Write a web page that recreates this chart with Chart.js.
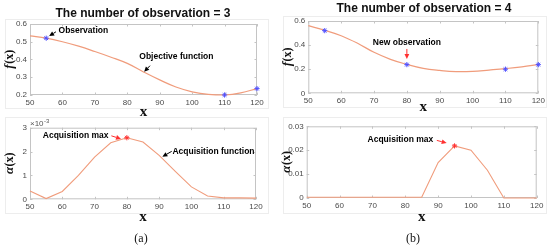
<!DOCTYPE html>
<html>
<head>
<meta charset="utf-8">
<script src="https://cdn.jsdelivr.net/npm/chart.js"></script>
<style>
body { margin: 0; background: #fff; }
#wrap { position: relative; width: 550px; height: 248px; overflow: hidden; font-family: "Liberation Sans", Arial, sans-serif; }
canvas { position: absolute; left: 0; top: 0; }
.ttl { position: absolute; font-weight: bold; font-size: 12px; color: #111; white-space: nowrap; transform: translate(-50%, -50%); }
.cap { position: absolute; font-family: "Liberation Serif", serif; font-size: 12px; color: #111; transform: translate(-50%, -50%); }
.box { position: absolute; border: 1px solid #ededed; }
</style>
</head>
<body>
<div id="wrap">
  <div class="box" style="left:5px;top:19px;width:262px;height:88px"></div>
  <div class="box" style="left:5px;top:117px;width:262px;height:95px"></div>
  <div class="box" style="left:283px;top:16px;width:262px;height:90px"></div>
  <div class="box" style="left:283px;top:117px;width:262px;height:95px"></div>
  <canvas id="fA" width="550" height="248"></canvas>
  <canvas id="aA" width="550" height="248"></canvas>
  <canvas id="fB" width="550" height="248"></canvas>
  <canvas id="aB" width="550" height="248"></canvas>
  <div class="ttl" style="left:143px;top:13px">The number of observation = 3</div>
  <div class="ttl" style="left:424px;top:8px">The number of observation = 4</div>
  <div class="cap" style="left:141px;top:238px">(a)</div>
  <div class="cap" style="left:413px;top:238px">(b)</div>
</div>
<script>
// values
const xValues = [50, 55, 60, 65, 70, 75, 80, 85, 90, 95, 100, 105, 110, 115, 120];
const xTicks = [50, 60, 70, 80, 90, 100, 110, 120];

// (a) three observations
const objectiveA = [0.533, 0.520, 0.500, 0.475, 0.445, 0.413, 0.378, 0.330, 0.285, 0.245, 0.218, 0.203, 0.200, 0.212, 0.236];
const obsXA = [55, 110, 120];
const obsYA = [0.520, 0.200, 0.236];
const acqA = [0.35, 0.03, 0.33, 1.00, 1.77, 2.37, 2.58, 2.40, 1.84, 1.17, 0.52, 0.14, 0.06, 0.06, 0.05]; // x 10^-3
const maxXA = 80, maxYA = 2.58;
const yTicksFA = [0.2, 0.3, 0.4, 0.5, 0.6];
const yTicksAA = [0, 1, 2, 3];

// (b) four observations
const objectiveB = [0.561, 0.523, 0.478, 0.415, 0.340, 0.282, 0.240, 0.207, 0.190, 0.180, 0.182, 0.193, 0.205, 0.220, 0.240];
const obsXB = [55, 80, 110, 120];
const obsYB = [0.520, 0.238, 0.200, 0.238];
const acqB = [0.0003, 0.0003, 0.0003, 0.0003, 0.0003, 0.0003, 0.0003, 0.0003, 0.0148, 0.0218, 0.0200, 0.0116, 0, 0, 0];
const maxXB = 95, maxYB = 0.0218;
const yTicksFB = [0, 0.2, 0.4, 0.6];
const yTicksAB = [0, 0.01, 0.02, 0.03];

const lineColor = '#f09c7c';
const obsColor = '#5050ff';
const maxColor = '#ff3030';
const frameColor = '#c4c4c4';
const tickFont = { family: 'Liberation Sans', size: 8 };
const noteFont = 'bold 8.5px "Liberation Sans"';

const pts = (xs, ys) => xs.map((x, i) => ({ x: x, y: ys[i] }));

// light frame with inward MATLAB-style ticks, drawn under the lines
const framePlugin = {
  id: 'frame',
  beforeDatasetsDraw(chart) {
    const { ctx, chartArea: a, scales } = chart;
    ctx.save();
    ctx.strokeStyle = frameColor;
    ctx.lineWidth = 1;
    ctx.strokeRect(a.left + 0.5, a.top + 0.5, a.right - a.left - 1, a.bottom - a.top - 1);
    ctx.beginPath();
    scales.x.ticks.forEach(t => {
      const px = Math.round(scales.x.getPixelForValue(t.value)) + 0.5;
      ctx.moveTo(px, a.bottom); ctx.lineTo(px, a.bottom - 2.5);
      ctx.moveTo(px, a.top); ctx.lineTo(px, a.top + 2.5);
    });
    scales.y.ticks.forEach(t => {
      const py = Math.round(scales.y.getPixelForValue(t.value)) + 0.5;
      ctx.moveTo(a.left, py); ctx.lineTo(a.left + 2.5, py);
      ctx.moveTo(a.right, py); ctx.lineTo(a.right - 2.5, py);
    });
    ctx.stroke();
    ctx.restore();
  }
};

function arrow(ctx, x0, y0, x1, y1, color) {
  const ang = Math.atan2(y1 - y0, x1 - x0);
  const hl = 5, hw = 2.4;
  ctx.strokeStyle = color;
  ctx.fillStyle = color;
  ctx.lineWidth = 1;
  ctx.beginPath();
  ctx.moveTo(x0, y0);
  ctx.lineTo(x1 - Math.cos(ang) * hl, y1 - Math.sin(ang) * hl);
  ctx.stroke();
  ctx.beginPath();
  ctx.moveTo(x1, y1);
  ctx.lineTo(x1 - Math.cos(ang) * hl - Math.sin(ang) * hw, y1 - Math.sin(ang) * hl + Math.cos(ang) * hw);
  ctx.lineTo(x1 - Math.cos(ang) * hl + Math.sin(ang) * hw, y1 - Math.sin(ang) * hl - Math.cos(ang) * hw);
  ctx.closePath();
  ctx.fill();
}

// text notes + arrows, placed in data units
function notesPlugin(notes, yTitle, titleX, exponent) {
  return {
    id: 'notes',
    afterDraw(chart) {
      const { ctx, chartArea: a, scales: { x, y } } = chart;
      ctx.save();
      notes.forEach(n => {
        ctx.font = noteFont;
        ctx.fillStyle = '#000';
        ctx.textAlign = n.align;
        ctx.textBaseline = 'middle';
        ctx.fillText(n.text, x.getPixelForValue(n.tx), y.getPixelForValue(n.ty));
        arrow(ctx, x.getPixelForValue(n.from[0]), y.getPixelForValue(n.from[1]),
          x.getPixelForValue(n.to[0]), y.getPixelForValue(n.to[1]), n.color);
      });
      // y label, rotated
      ctx.translate(titleX, (a.top + a.bottom) / 2);
      ctx.rotate(-Math.PI / 2);
      ctx.textBaseline = 'middle';
      ctx.fillStyle = '#111';
      const first = yTitle[0], rest = yTitle.slice(1);
      const f1 = 'italic bold 13px "Liberation Serif"', f2 = 'bold 12px "Liberation Serif"';
      ctx.font = f1;
      const w1 = ctx.measureText(first).width;
      ctx.font = f2;
      const w2 = ctx.measureText(rest).width;
      ctx.textAlign = 'left';
      ctx.font = f1;
      ctx.fillText(first, -(w1 + w2) / 2, 0);
      ctx.font = f2;
      ctx.fillText(rest, -(w1 + w2) / 2 + w1 + 0.5, 0);
      ctx.restore();
      if (exponent) {
        ctx.save();
        ctx.fillStyle = '#555';
        ctx.textBaseline = 'alphabetic';
        ctx.textAlign = 'left';
        ctx.font = '8px "Liberation Sans"';
        ctx.fillText('\u00d710', a.left, a.top - 2);
        const w = ctx.measureText('\u00d710').width;
        ctx.font = '6px "Liberation Sans"';
        ctx.fillText(exponent, a.left + w + 0.5, a.top - 5);
        ctx.restore();
      }
    }
  };
}

function panel(id, area, yTicks, yTitle, datasets, notes, exponent) {
  const yW = area.l - area.ox;
  const xH = area.xH;
  const fmt = v => String(+v.toFixed(4));
  new Chart(document.getElementById(id), {
    type: 'line',
    data: { datasets: datasets },
    options: {
      responsive: false,
      animation: false,
      events: [],
      layout: { padding: { left: area.ox, top: area.t, right: 550 - area.r, bottom: 248 - area.b - xH } },
      plugins: { legend: { display: false }, tooltip: { enabled: false } },
      scales: {
        x: {
          type: 'linear', min: 50, max: 120,
          afterBuildTicks: s => { s.ticks = xTicks.map(v => ({ value: v })); },
          afterFit: s => { s.height = xH; },
          grid: { drawOnChartArea: false, drawTicks: false },
          border: { display: false },
          ticks: { padding: 3, font: tickFont, color: '#4a4a4a', maxRotation: 0, autoSkip: false, callback: fmt },
          title: { display: true, text: 'x', color: '#111', padding: 0,
            font: { family: 'Liberation Serif', weight: 'bold', size: 15 } }
        },
        y: {
          type: 'linear', min: yTicks[0], max: yTicks[yTicks.length - 1],
          afterBuildTicks: s => { s.ticks = yTicks.map(v => ({ value: v })); },
          afterFit: s => { s.width = yW; },
          grid: { drawOnChartArea: false, drawTicks: false },
          border: { display: false },
          ticks: { padding: 3, font: tickFont, color: '#4a4a4a', callback: fmt }
        }
      }
    },
    plugins: [framePlugin, notesPlugin(notes, yTitle, area.ox + area.tx, exponent)]
  });
}

const curve = data => ({ data: data, borderColor: lineColor, borderWidth: 1.2, pointRadius: 0, tension: 0.4, fill: false, clip: 3 });
const polyline = data => ({ data: data, borderColor: lineColor, borderWidth: 1.1, pointRadius: 0, tension: 0, fill: false, clip: 3 });
const markers = (data, color) => ({ data: data, showLine: false, pointStyle: 'star', pointRadius: 2.6,
  pointBorderColor: color, pointBorderWidth: 1, pointBackgroundColor: color, clip: 5 });

panel('fA', { ox: 2, tx: 8, l: 30, t: 24, r: 257, b: 95, xH: 26 }, yTicksFA, 'f(x)',
  [markers(pts(obsXA, obsYA), obsColor), curve(pts(xValues, objectiveA))],
  [
    { text: 'Observation', align: 'left', tx: 58.8, ty: 0.564, from: [58.0, 0.556], to: [55.9, 0.532], color: '#000' },
    { text: 'Objective function', align: 'left', tx: 83.7, ty: 0.416, from: [87.0, 0.365], to: [85.2, 0.331], color: '#000' }
  ]);

panel('aA', { ox: 2, tx: 8, l: 30, t: 127.7, r: 256, b: 199.3, xH: 27 }, yTicksAA, '\u03b1(x)',
  [markers([{ x: maxXA, y: maxYA }], maxColor), polyline(pts(xValues, acqA))],
  [
    { text: 'Acquisition max', align: 'right', tx: 74.3, ty: 2.68, from: [75.2, 2.66], to: [78.2, 2.53], color: maxColor },
    { text: 'Acquisition function', align: 'left', tx: 94.1, ty: 2.01, from: [93.9, 2.01], to: [91.0, 1.785], color: '#000' }
  ], '-3');

panel('fB', { ox: 280, tx: 8, l: 308.3, t: 21, r: 538.3, b: 93.3, xH: 23 }, yTicksFB, 'f(x)',
  [markers(pts(obsXB, obsYB), obsColor), curve(pts(xValues, objectiveB))],
  [
    { text: 'New observation', align: 'center', tx: 80, ty: 0.42, from: [80, 0.368], to: [80, 0.285], color: maxColor }
  ]);

panel('aB', { ox: 280, tx: 6.5, l: 306.7, t: 126.3, r: 536.7, b: 198, xH: 28 }, yTicksAB, '\u03b1(x)',
  [markers([{ x: maxXB, y: maxYB }], maxColor), polyline(pts(xValues, acqB))],
  [
    { text: 'Acquisition max', align: 'right', tx: 88.5, ty: 0.0246, from: [89.6, 0.0241], to: [92.6, 0.0230], color: maxColor }
  ]);
</script>
</body>
</html>
